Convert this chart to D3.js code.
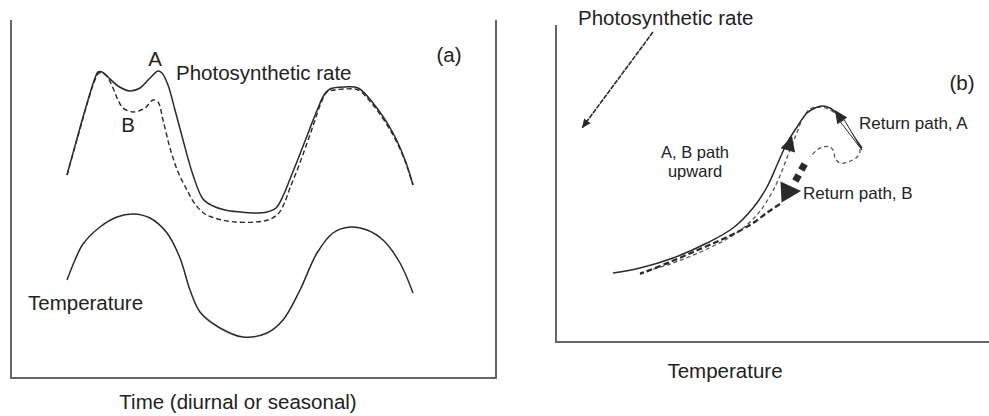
<!DOCTYPE html>
<html>
<head>
<meta charset="utf-8">
<script src="https://cdn.jsdelivr.net/npm/d3@7"></script>
<style>
  html, body { margin: 0; padding: 0; background: #fff; }
  svg { display: block; }
  text { font-family: "Liberation Sans", Arial, Helvetica, sans-serif; fill: #222; }
</style>
</head>
<body>
<svg id="chart" width="989" height="416"></svg>
<script>
// ---------- DATA (panel a: time vs. value, arbitrary units) ----------
const rateA = [
  [11.2,40.6],[13.4,48.6],[15.4,55.6],[16.8,60.0],[17.4,61.2],[18.2,61.2],[19.4,60.2],
  [21.4,58.4],[23.8,57.4],[25.8,58.0],[27.8,60.0],[29.4,61.4],[30.2,61.0],[31.4,58.6],
  [32.8,53.6],[34.4,47.6],[36.4,40.6],[38.4,35.8],[40.4,34.4],[42.8,33.6],[45.8,33.2],
  [48.8,33.0],[51.2,33.2],[53.0,34.0],[54.4,36.4],[55.8,39.8],[57.8,44.8],[59.8,50.0],
  [61.4,54.0],[62.6,56.6],[63.8,57.8],[66.8,58.2],[69.4,58.0],[72.4,55.0],[76.4,49.0],
  [78.8,43.6],[80.4,38.6]
];
const rateB = [
  [11.2,40.6],[13.4,48.4],[15.4,55.4],[16.8,59.6],[17.6,61.0],[18.6,60.8],[19.4,60.0],
  [20.4,58.0],[21.4,55.6],[22.4,54.0],[24.4,53.2],[26.8,54.0],[28.4,55.6],[29.4,55.2],
  [30.4,51.6],[31.8,46.0],[33.4,41.2],[35.2,37.6],[36.8,34.8],[38.8,32.8],[41.4,31.8],
  [44.8,31.2],[48.8,31.2],[51.4,31.6],[53.4,32.8],[54.6,34.8],[55.8,38.0],[57.4,42.0],
  [59.0,46.4],[60.6,51.0],[62.0,55.0],[63.2,57.2],[64.6,57.6],[66.8,57.8],[69.4,57.6],
  [72.4,54.6],[76.4,48.6],[78.8,43.4],[80.4,38.6]
];
const temperature = [
  [11.2,19.6],[12.8,23.6],[14.4,26.8],[17.8,30.2],[21.2,32.2],[24.4,32.8],[27.8,32.0],
  [31.2,29.0],[33.8,24.0],[35.8,17.6],[37.8,13.2],[41.8,10.0],[46.4,8.2],[51.2,9.0],
  [54.4,11.6],[57.8,17.6],[61.2,25.0],[64.4,29.0],[67.8,30.2],[71.2,29.6],[74.4,27.6],
  [77.8,23.0],[80.4,17.0]
];

// ---------- DATA (panel b: temperature vs. photosynthetic rate) ----------
const pathA = [
  [11.4,13.8],[16.8,14.8],[23.4,16.8],[30.2,19.8],[35.4,22.8],[39.4,26.8],[42.2,31.0],
  [44.2,35.4],[46.2,39.8],[48.2,43.0],[50.2,45.8],[51.8,46.8],[53.2,47.2],[54.8,46.8],
  [56.4,45.4],[58.2,43.0],[61.2,38.8]
];
const pathBUp = [
  [16.8,13.8],[23.4,15.8],[30.2,18.6],[35.8,21.6],[40.0,25.2],[42.8,29.2],[44.6,32.8],
  [46.4,37.4],[48.0,41.4],[49.4,44.8],[50.8,46.6],[52.4,47.0],[54.4,46.6],[56.4,45.2],
  [58.4,42.4],[60.8,38.4],[60.2,37.0],[58.4,36.0],[56.8,35.8],[55.8,36.8],[55.6,38.0],
  [54.8,39.0],[53.4,39.0],[52.2,38.4],[50.8,37.0]
];
const pathBReturn = [
  [44.8,27.6],[42.4,26.0],[38.8,23.4],[33.8,20.8],[28.8,18.6],[22.8,16.0],[16.8,13.6]
];
const returnBDots = [[49.4,35.0],[48.2,32.8]];
// arrows: [from, to] in data units
const arrowUpA = [[46.4,38.4],[47.2,41.2]];
const arrowReturnA = [[61.2,38.4],[55.8,46.4]];
const arrowReturnB = [[45.0,30.0],[49.0,30.2]];
const pointerArrow = [[19.4,62.0],[5.2,42.8]];

// ---------- DRAWING ----------
const svg = d3.select("#chart");
const ink = "#2a2a2a";
const axisColor = "#666";

// Panel a scales
const xA = d3.scaleLinear().domain([0, 97]).range([11, 496]);
const yA = d3.scaleLinear().domain([0, 71.6]).range([378, 20]);
// Panel b scales
const xB = d3.scaleLinear().domain([0, 86.6]).range([556, 989]);
const yB = d3.scaleLinear().domain([0, 63.4]).range([342, 25]);

const gA = svg.append("g");
const gB = svg.append("g");

// Panel a frame (left, bottom, right)
gA.append("path")
  .attr("d", `M${xA(0)},${yA(71.6)}V${yA(0)}H${xA(97)}V${yA(71.6)}`)
  .attr("fill", "none").attr("stroke", axisColor).attr("stroke-width", 2);

// Panel b axes (left, bottom)
gB.append("path")
  .attr("d", `M${xB(0)},${yB(63.4)}V${yB(0)}H${xB(86.6)}`)
  .attr("fill", "none").attr("stroke", axisColor).attr("stroke-width", 2);

const lineA = d3.line().x(d => xA(d[0])).y(d => yA(d[1])).curve(d3.curveCatmullRom.alpha(0.5));
const lineB = d3.line().x(d => xB(d[0])).y(d => yB(d[1])).curve(d3.curveCatmullRom.alpha(0.5));

gA.append("path").attr("d", lineA(rateB)).attr("fill", "none")
  .attr("stroke", ink).attr("stroke-width", 1.4).attr("stroke-dasharray", "5,3");
gA.append("path").attr("d", lineA(rateA)).attr("fill", "none")
  .attr("stroke", ink).attr("stroke-width", 1.5);
gA.append("path").attr("d", lineA(temperature)).attr("fill", "none")
  .attr("stroke", ink).attr("stroke-width", 1.5);

// Panel b curves
gB.append("path").attr("d", lineB(pathBUp)).attr("fill", "none")
  .attr("stroke", "#555").attr("stroke-width", 1.3).attr("stroke-dasharray", "4,3");
gB.append("path").attr("d", lineB(pathBReturn)).attr("fill", "none")
  .attr("stroke", ink).attr("stroke-width", 2.2).attr("stroke-dasharray", "6,3");
gB.append("path").attr("d", lineB(pathA)).attr("fill", "none")
  .attr("stroke", ink).attr("stroke-width", 1.5);

gB.selectAll("rect.dot").data(returnBDots).join("rect")
  .attr("class", "dot")
  .attr("x", d => xB(d[0]) - 3.5).attr("y", d => yB(d[1]) - 3.5)
  .attr("width", 7).attr("height", 7).attr("fill", ink)
  .attr("transform", d => `rotate(30,${xB(d[0])},${yB(d[1])})`);

function head(g, seg, len, wid, sx, sy) {
  const x0 = sx(seg[0][0]), y0 = sy(seg[0][1]);
  const x1 = sx(seg[1][0]), y1 = sy(seg[1][1]);
  const dx = x1 - x0, dy = y1 - y0, n = Math.hypot(dx, dy);
  const ux = dx / n, uy = dy / n, px = -uy, py = ux;
  const bx = x1 - ux * len, by = y1 - uy * len;
  g.append("path")
    .attr("d", `M${x1},${y1}L${bx + px * wid / 2},${by + py * wid / 2}L${bx - px * wid / 2},${by - py * wid / 2}Z`)
    .attr("fill", ink);
  return { x0, y0, bx, by, px, py };
}

// Upward arrow on path
head(gB, arrowUpA, 15, 15, xB, yB);

// Return path A : hollow shaft + head
{
  const h = head(gB, arrowReturnA, 13, 12, xB, yB);
  const w = 2.2;
  gB.append("path")
    .attr("d", `M${h.x0},${h.y0}L${h.bx + h.px * w},${h.by + h.py * w}` +
               `L${h.bx - h.px * w},${h.by - h.py * w}Z`)
    .attr("fill", "#fff").attr("stroke", ink).attr("stroke-width", 1);
}

// Return path B head
head(gB, arrowReturnB, 20, 21, xB, yB);

// Pointer arrow from label
gB.append("line")
  .attr("x1", xB(pointerArrow[0][0])).attr("y1", yB(pointerArrow[0][1]))
  .attr("x2", xB(pointerArrow[1][0])).attr("y2", yB(pointerArrow[1][1]))
  .attr("stroke", ink).attr("stroke-width", 1.6).attr("stroke-dasharray", "5,1");
head(gB, pointerArrow, 9, 8, xB, yB);

// ---------- TEXT ----------
const big = 20.5, small = 17, tiny = 16.5;
function label(x, y, s, size, anchor) {
  svg.append("text").attr("x", x).attr("y", y).attr("font-size", size)
    .attr("text-anchor", anchor || "start").text(s);
}
label(176, 80, "Photosynthetic rate", big);
label(155, 66, "A", big, "middle");
label(128, 132, "B", big, "middle");
label(449, 62, "(a)", big, "middle");
label(28, 310, "Temperature", big);
label(238, 409, "Time (diurnal or seasonal)", big, "middle");

label(578, 25, "Photosynthetic rate", big);
label(962, 90, "(b)", big, "middle");
label(859, 129, "Return path, A", small);
label(695, 158, "A, B path", tiny, "middle");
label(695, 177, "upward", tiny, "middle");
label(803, 199, "Return path, B", small);
label(725, 378, "Temperature", big, "middle");
</script>
</body>
</html>
